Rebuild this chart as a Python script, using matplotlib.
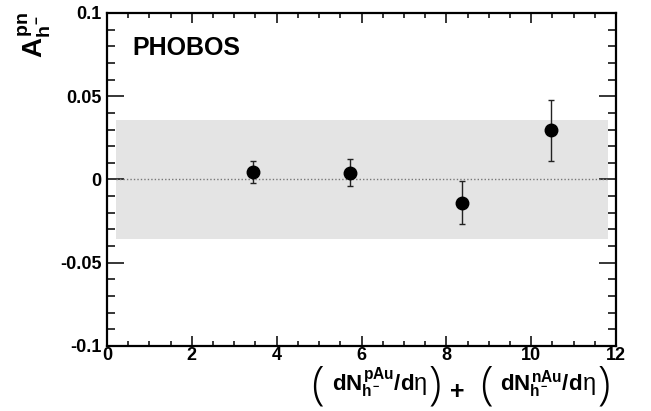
import numpy as np
import matplotlib
matplotlib.use("Agg")
import matplotlib.pyplot as plt
from matplotlib.ticker import MultipleLocator

plt.rcParams['font.family'] = ['Liberation Sans', 'DejaVu Sans']
plt.rcParams['font.weight'] = 'bold'
plt.rcParams['mathtext.fontset'] = 'custom'
plt.rcParams['mathtext.rm'] = 'Liberation Sans:bold'
plt.rcParams['mathtext.it'] = 'Liberation Sans:bold'
plt.rcParams['mathtext.bf'] = 'Liberation Sans:bold'

# data
mult = [3.44, 5.74, 8.37, 10.47]
asym = [0.0045, 0.0041, -0.0139, 0.0297]
asym_err = [0.0068, 0.0082, 0.0128, 0.0183]
syst_band = 0.0357          # grey systematic band half-width
band_range = [0.22, 11.8]
yticks = [-0.1, -0.05, 0, 0.05, 0.1]
ytick_labels = ['-0.1', '-0.05', '0', '0.05', '0.1']
xticks = [0, 2, 4, 6, 8, 10, 12]

W, H = 651, 411
fig = plt.figure(figsize=(W / 100, H / 100), dpi=100)
ax = fig.add_axes([107/W, 65/H, 509/W, 333/H])

ax.fill_between(band_range, -syst_band, syst_band, color='#e4e4e4', lw=0, zorder=1)
ax.plot(band_range, [0, 0], ls=(0, (1, 1.5)), color='#777777', lw=1.0, zorder=2)
ax.errorbar(mult, asym, yerr=asym_err, fmt='o', color='black', ms=9,
            ecolor='#222222', elinewidth=1.0, capsize=2.5, capthick=1.0, zorder=3)

ax.set_xlim(0, 12)
ax.set_ylim(-0.1, 0.1)
ax.xaxis.set_minor_locator(MultipleLocator(0.5))
ax.yaxis.set_minor_locator(MultipleLocator(0.01))
ax.set_yticks(yticks)
ax.set_yticklabels(ytick_labels)
ax.set_xticks(xticks)
ax.set_xticklabels([str(v) for v in xticks])

ax.tick_params(axis='both', which='both', direction='in', top=True, right=True,
               labelsize=13, width=1.1)
ax.tick_params(axis='x', which='major', length=7, pad=1)
ax.tick_params(axis='x', which='minor', length=3.5)
ax.tick_params(axis='y', which='major', length=12, pad=4)
ax.tick_params(axis='y', which='minor', length=6)
for sp in ax.spines.values():
    sp.set_linewidth(1.6)
for lab in ax.get_xticklabels() + ax.get_yticklabels():
    lab.set_fontweight('bold')

fig.text(132/W, 1 - 55/H, 'PHOBOS', fontsize=18, fontweight='bold',
         ha='left', va='baseline')

# y title
fig.text(35/W, 1 - 12/H, r'$A^{pn}_{h^{-}}$', rotation=90, fontsize=20,
         ha='center', va='top')

# x title built from pieces so the brackets can be tall and thin
renderer = fig.canvas.get_renderer()
paren_kw = dict(fontsize=33, family=['Open Sans', 'DejaVu Sans'], fontweight='light')
math_kw = dict(fontsize=16)
eta_kw = dict(fontsize=17, fontweight='normal')
pieces = [
    ('(', paren_kw, 398, 8),
    (r'$dN^{pAu}_{h^{-}}/d$', math_kw, 390, 0),
    ('η', eta_kw, 390, 2),
    (')', paren_kw, 398, 9),
    ('+', dict(fontsize=18, fontweight='bold'), 399, 15),
    ('(', paren_kw, 398, 8),
    (r'$dN^{nAu}_{h^{-}}/d$', math_kw, 390, 0),
    ('η', eta_kw, 390, 2),
    (')', paren_kw, 398, 0),
]
x_px = 311
for s, kw, base, gap in pieces:
    t = fig.text(x_px / W, 1 - base / H, s, ha='left', va='baseline', **kw)
    bb = t.get_window_extent(renderer)
    x_px = bb.x1 + gap

fig.savefig('out.png', dpi=100)
